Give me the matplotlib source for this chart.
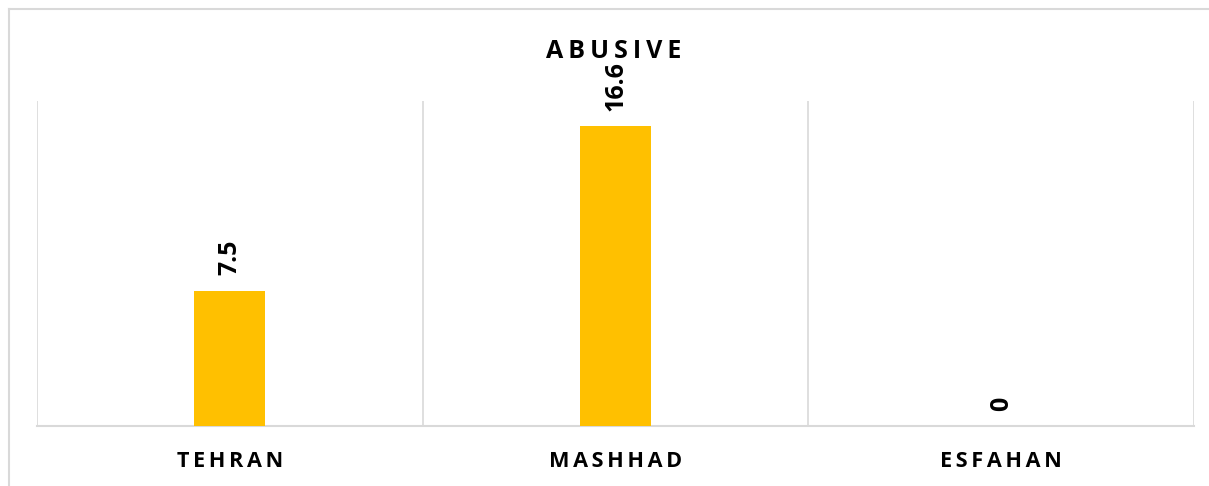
import matplotlib
matplotlib.use("Agg")
import matplotlib.pyplot as plt
from matplotlib.lines import Line2D

categories = ["TEHRAN", "MASHHAD", "ESFAHAN"]
values = [7.5, 16.6, 0]
title = "ABUSIVE"

GOLD = "#FFC000"
GRID = "#D9D9D9"
FONT = ["Open Sans", "DejaVu Sans"]

def spaced(s, sep="\u2006"):
    return sep.join(s)

W, H = 1209, 486
fig = plt.figure(figsize=(W / 100, H / 100), dpi=100)
fig.patch.set_facecolor("white")

# outer chart frame (clipped at right/bottom like the reference)
fig.add_artist(Line2D([8.5 / W, 8.5 / W], [0, 1 - 9.5 / H], transform=fig.transFigure, color=GRID, lw=1.5))
fig.add_artist(Line2D([8.5 / W, 1], [1 - 9.5 / H, 1 - 9.5 / H], transform=fig.transFigure, color=GRID, lw=1.5))

ax = fig.add_axes([37 / W, (H - 426) / H, (1194 - 37) / W, (426 - 101) / H])
x = list(range(len(categories)))
bars = ax.bar(x, values, width=0.184, color=GOLD, zorder=3)
ax.set_xlim(-0.5, len(categories) - 0.5)
ax.set_ylim(0, 18)

for sp in ["top", "left", "right"]:
    ax.spines[sp].set_visible(False)
ax.spines["bottom"].set_color(GRID)
ax.spines["bottom"].set_linewidth(1.5)

ax.set_yticks([])
ax.set_xticks(x)
ax.set_xticklabels([spaced(c) for c in categories], fontsize=15.6, fontweight="bold", family=FONT)
ax.set_xticks([i - 0.5 for i in range(len(categories) + 1)], minor=True)
ax.tick_params(axis="x", which="both", length=0, pad=18)
ax.grid(True, axis="x", which="minor", color=GRID, lw=1.2, zorder=0)

for xi, v in zip(x, values):
    ax.annotate(f"{v:g}", xy=(xi, v), xytext=(0, 11), textcoords="offset points",
                rotation=90, ha="center", va="bottom", fontsize=18, fontweight="bold",
                family=FONT, color="black")

fig.text(614 / W, 1 - 51 / H, spaced(title, "\u2009"), ha="center", va="center", fontsize=18,
         fontweight="bold", family=FONT, color="black")

fig.savefig("out.png", dpi=100)
